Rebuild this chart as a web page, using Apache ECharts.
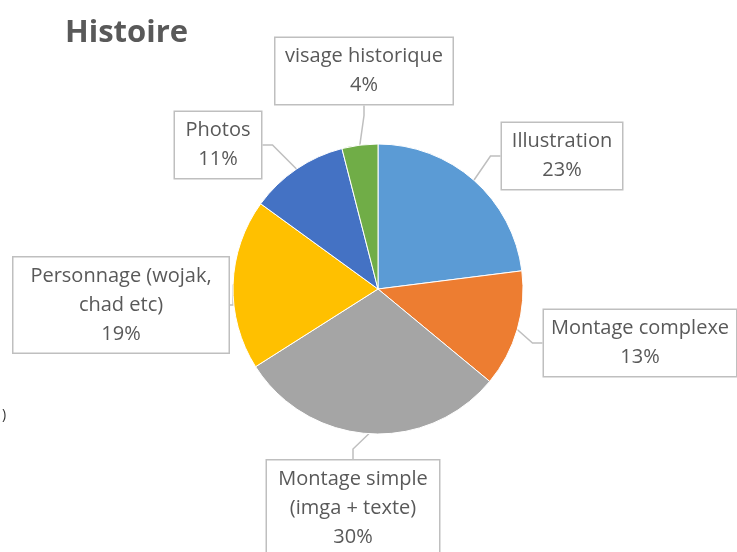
<!DOCTYPE html>
<html>
<head>
<meta charset="utf-8">
<script src="https://cdn.jsdelivr.net/npm/echarts@6/dist/echarts.min.js"></script>
<style>
  html, body { margin: 0; padding: 0; background: #fff; }
  #chart { width: 737px; height: 552px; }
</style>
</head>
<body>
<div id="chart"></div>
<script>
// Slice names (clockwise from 12 o'clock) and their shares in percent
const categories = [
  'Illustration',
  'Montage complexe',
  'Montage simple\n(imga + texte)',
  'Personnage (wojak,\nchad etc)',
  'Photos',
  'visage historique'
];
const shares = [23, 13, 30, 19, 11, 4];
const colors = ['#5B9BD5', '#ED7D31', '#A5A5A5', '#FFC000', '#4472C4', '#70AD47'];

// Callout box centre and size for each slice label
const calloutBoxes = [
  { x: 562, y: 156, w: 120, h: 66 },
  { x: 640, y: 343, w: 192, h: 66 },
  { x: 353, y: 508, w: 172, h: 95 },
  { x: 121, y: 305, w: 215, h: 95 },
  { x: 218, y: 145, w: 86, h: 66 },
  { x: 364, y: 71, w: 177, h: 66 }
];

const chart = echarts.init(document.getElementById('chart'));
const textFont = '"Open Sans", sans-serif';

chart.setOption({
  animation: false,
  title: {
    text: 'Histoire',
    left: 60,
    top: 13,
    textStyle: { fontFamily: textFont, fontWeight: 'bold', fontSize: 31, color: '#595959' }
  },
  graphic: [{
    type: 'text', left: 2, top: 408,
    style: { text: ')', fill: '#333', font: '14px ' + textFont }
  }],
  series: [{
    type: 'pie',
    center: [378, 289],
    radius: [0, 145],
    startAngle: 90,
    clockwise: true,
    avoidLabelOverlap: false,
    itemStyle: { borderColor: '#ffffff', borderWidth: 1 },
    label: {
      show: true,
      position: 'outside',
      formatter: p => p.name + '\n' + p.value + '%',
      fontFamily: textFont,
      fontSize: 20,
      lineHeight: 29,
      color: '#595959',
      backgroundColor: '#ffffff',
      borderColor: '#BFBFBF',
      borderWidth: 1.5,
      align: 'center'
    },
    labelLine: {
      show: true,
      length: 10,
      length2: 10,
      lineStyle: { color: '#BFBFBF', width: 1.5 }
    },
    labelLayout: params => {
      const b = calloutBoxes[params.dataIndex];
      return { x: b.x, y: b.y, align: 'center', verticalAlign: 'middle' };
    },
    data: categories.map((name, i) => {
      const b = calloutBoxes[i];
      const lines = name.split('\n').length + 1;
      const padV = Math.max(0, (b.h - lines * 29) / 2);
      return {
        name: name,
        value: shares[i],
        itemStyle: { color: colors[i] },
        label: { width: b.w, padding: [padV + 2, 0, Math.max(0, padV - 2), 0] }
      };
    })
  }]
});
</script>
</body>
</html>
